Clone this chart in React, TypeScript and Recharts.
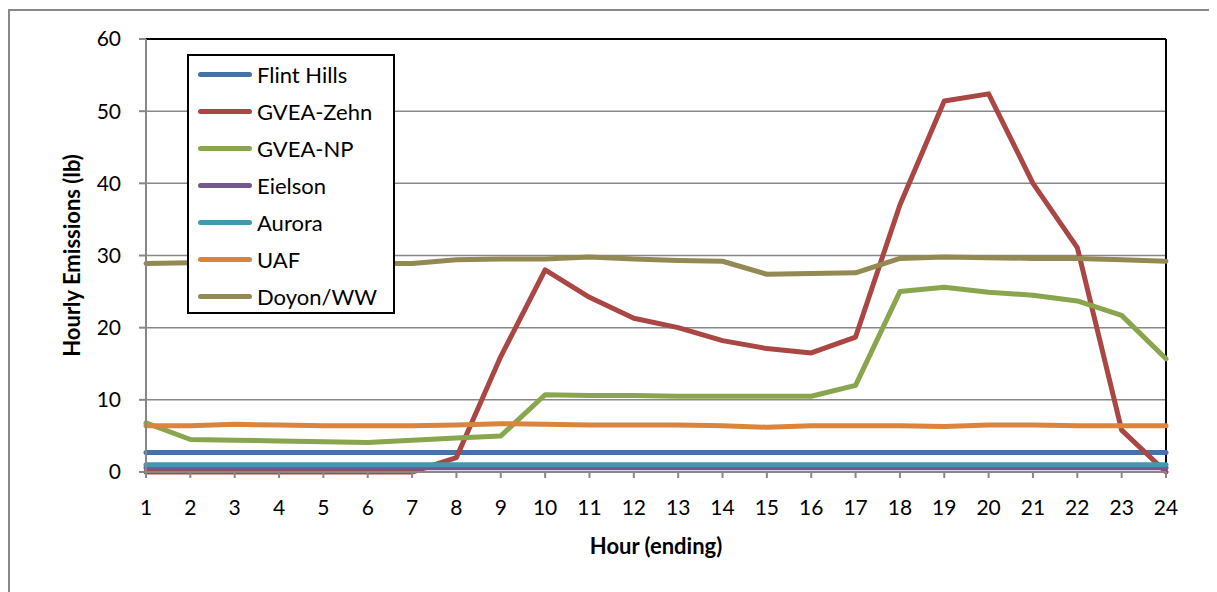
import React from 'react';
import { LineChart, Line, XAxis, YAxis, CartesianGrid, Legend, ReferenceLine } from 'recharts';

const hours = [1, 2, 3, 4, 5, 6, 7, 8, 9, 10, 11, 12, 13, 14, 15, 16, 17, 18, 19, 20, 21, 22, 23, 24];
const yTicks = [0, 10, 20, 30, 40, 50, 60];

const flintHills = [2.7, 2.7, 2.7, 2.7, 2.7, 2.7, 2.7, 2.7, 2.7, 2.7, 2.7, 2.7, 2.7, 2.7, 2.7, 2.7, 2.7, 2.7, 2.7, 2.7, 2.7, 2.7, 2.7, 2.7];
const gveaZehn = [0, 0, 0, 0, 0, 0, 0, 2.0, 16.0, 28.0, 24.2, 21.3, 20.0, 18.2, 17.1, 16.5, 18.7, 37.0, 51.4, 52.4, 40.0, 31.1, 5.8, 0];
const gveaNP = [6.8, 4.5, 4.4, 4.3, 4.2, 4.1, 4.4, 4.7, 5.0, 10.7, 10.6, 10.6, 10.5, 10.5, 10.5, 10.5, 12.0, 25.0, 25.6, 24.9, 24.5, 23.7, 21.7, 15.7];
const eielson = [0.6, 0.6, 0.6, 0.6, 0.6, 0.6, 0.6, 0.6, 0.6, 0.6, 0.6, 0.6, 0.6, 0.6, 0.6, 0.6, 0.6, 0.6, 0.6, 0.6, 0.6, 0.6, 0.6, 0.6];
const aurora = [1.0, 1.0, 1.0, 1.0, 1.0, 1.0, 1.0, 1.0, 1.0, 1.0, 1.0, 1.0, 1.0, 1.0, 1.0, 1.0, 1.0, 1.0, 1.0, 1.0, 1.0, 1.0, 1.0, 1.0];
const uaf = [6.4, 6.4, 6.6, 6.5, 6.4, 6.4, 6.4, 6.5, 6.7, 6.6, 6.5, 6.5, 6.5, 6.4, 6.2, 6.4, 6.4, 6.4, 6.3, 6.5, 6.5, 6.4, 6.4, 6.4];
const doyonWW = [28.9, 29.0, 29.2, 29.1, 29.0, 28.9, 28.9, 29.4, 29.5, 29.5, 29.8, 29.5, 29.3, 29.2, 27.4, 27.5, 27.6, 29.6, 29.8, 29.7, 29.6, 29.6, 29.4, 29.2];

const series = [
  { key: 'flint', label: 'Flint Hills', color: '#4572A7', values: flintHills },
  { key: 'zehn', label: 'GVEA-Zehn', color: '#AA4643', values: gveaZehn },
  { key: 'np', label: 'GVEA-NP', color: '#89A54E', values: gveaNP },
  { key: 'eielson', label: 'Eielson', color: '#71588F', values: eielson },
  { key: 'aurora', label: 'Aurora', color: '#4198AF', values: aurora },
  { key: 'uaf', label: 'UAF', color: '#DB843D', values: uaf },
  { key: 'doyon', label: 'Doyon/WW', color: '#938953', values: doyonWW },
];

const data = hours.map((h, i) => {
  const row: Record<string, number> = { hour: h };
  series.forEach((s) => {
    row[s.key] = s.values[i];
  });
  return row;
});

const FONT = 'Lato, "Open Sans", sans-serif';
const GRID = '#888888';

// legend keeps the series order (recharts sorts payload by name otherwise)
function LegendBox() {
  return (
    <div
      style={{
        border: '2px solid #000',
        background: '#fff',
        width: 204,
        height: 256,
        fontFamily: FONT,
        fontSize: 22,
        color: '#000',
      }}
    >
      {series.map((s) => (
        <div key={s.key} style={{ display: 'flex', alignItems: 'center', height: 37, paddingLeft: 9 }}>
          <span style={{ display: 'inline-block', width: 54, height: 5, borderRadius: 3, background: s.color, marginRight: 5 }} />
          <span>{s.label}</span>
        </div>
      ))}
    </div>
  );
}

export default function App() {
  return (
    <div style={{ position: 'relative', width: 1209, height: 584, overflow: 'hidden', fontFamily: FONT }}>
      <div
        style={{
          position: 'absolute',
          left: 0,
          top: 1,
          width: 1300,
          height: 700,
          borderLeft: `2px solid ${GRID}`,
          borderTop: `2px solid ${GRID}`,
        }}
      />
      <div style={{ position: 'absolute', left: 0, top: 0 }}>
        <LineChart width={1209} height={584} data={data} margin={{ top: 31, right: 51, left: 78, bottom: 60 }}>
          <CartesianGrid stroke={GRID} strokeWidth={1.5} vertical={false} />
          <XAxis
            dataKey="hour"
            type="number"
            domain={[1, 24]}
            ticks={hours}
            interval={0}
            height={60}
            stroke={GRID}
            strokeWidth={2}
            tickSize={6}
            tickMargin={22}
            tick={{ fill: '#000', fontSize: 21, fontFamily: FONT }}
            label={{ value: 'Hour (ending)', position: 'bottom', offset: 6, fill: '#000', fontSize: 22, fontWeight: 'bold', fontFamily: FONT }}
          />
          <YAxis
            domain={[0, 60]}
            ticks={yTicks}
            interval={0}
            width={60}
            stroke={GRID}
            strokeWidth={2}
            tickSize={7}
            tickMargin={18}
            tick={{ fill: '#000', fontSize: 21, fontFamily: FONT }}
            label={{
              value: 'Hourly Emissions (lb)',
              angle: -90,
              position: 'insideLeft',
              offset: -14,
              fill: '#000',
              fontSize: 22,
              fontWeight: 'bold',
              fontFamily: FONT,
              style: { textAnchor: 'middle' },
            }}
          />
          <ReferenceLine y={60} stroke="#000" strokeWidth={2} />
          <ReferenceLine x={24} stroke="#000" strokeWidth={2} />
          {series.map((s) => (
            <Line
              key={s.key}
              dataKey={s.key}
              name={s.label}
              stroke={s.color}
              strokeWidth={5}
              dot={false}
              activeDot={false}
              strokeLinejoin="round"
              strokeLinecap="round"
              isAnimationActive={false}
            />
          ))}
          <Legend
            layout="vertical"
            align="center"
            verticalAlign="middle"
            content={<LegendBox />}
            wrapperStyle={{ position: 'absolute', left: 179, top: 46, width: 'auto', height: 'auto' }}
          />
        </LineChart>
      </div>
    </div>
  );
}
